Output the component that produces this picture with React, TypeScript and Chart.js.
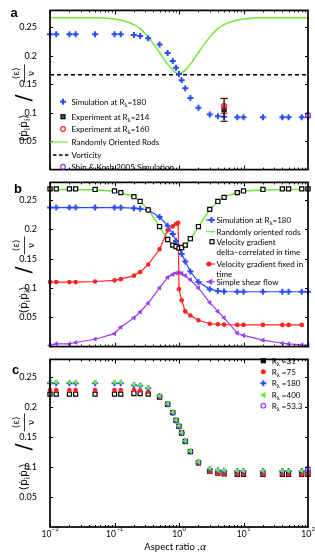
import React, { useEffect, useRef } from 'react';
import { Chart, registerables } from 'chart.js';
Chart.register(...registerables);

// ---------- data ----------
const ALPHA = [0.01, 0.0125, 0.02, 0.025, 0.05, 0.1, 0.125, 0.2, 0.25, 0.333, 0.5, 0.667, 0.8, 0.9, 1, 1.1, 1.25, 1.5, 2, 3, 4, 5, 8, 10, 20, 40, 50, 80, 100];

// panel a
const SIM180_A = [0.238, 0.238, 0.238, 0.238, 0.238, 0.238, 0.238, 0.2366, 0.235, 0.231, 0.22, 0.205, 0.191, 0.179, 0.168, 0.157, 0.143, 0.126, 0.109, 0.097, 0.094, 0.093, 0.092, 0.092, 0.092, 0.092, 0.092, 0.092, 0.092];
const RODS_A = [0.267, 0.267, 0.267, 0.267, 0.267, 0.265, 0.263, 0.255, 0.248, 0.233, 0.206, 0.185, 0.175, 0.170, 0.168, 0.170, 0.175, 0.185, 0.206, 0.233, 0.248, 0.255, 0.263, 0.265, 0.267, 0.267, 0.267, 0.267, 0.267];
const VORT_ALPHA = [0.01, 100];
const VORT_A = [0.1667, 0.1667];
const EXP_ALPHA = [5];
const EXP214_A = [0.105];
const EXP214_ERR = [0.02];
const EXP160_A = [0.112];
const EXP160_ERR = [0.0135];
const SHIN_ALPHA = [100];
const SHIN_A = [0.096];

// panel b
const SIM180_B = [0.237, 0.237, 0.237, 0.237, 0.237, 0.237, 0.237, 0.236, 0.235, 0.233, 0.221, 0.206, 0.192, 0.180, 0.169, 0.158, 0.145, 0.128, 0.110, 0.098, 0.095, 0.094, 0.0935, 0.0935, 0.0935, 0.0935, 0.0935, 0.0935, 0.0935];
const RODS_B = [0.268, 0.268, 0.268, 0.268, 0.267, 0.265, 0.262, 0.255, 0.2475, 0.233, 0.2047, 0.1826, 0.173, 0.1706, 0.168, 0.1706, 0.173, 0.1826, 0.2047, 0.233, 0.2475, 0.255, 0.262, 0.265, 0.267, 0.268, 0.268, 0.268, 0.268];
const DELTA_B = [0.269, 0.269, 0.269, 0.269, 0.268, 0.2654, 0.2626, 0.2556, 0.2475, 0.233, 0.2047, 0.1826, 0.173, 0.1706, 0.168, 0.169, 0.173, 0.184, 0.2047, 0.234, 0.2475, 0.2545, 0.2626, 0.2654, 0.268, 0.269, 0.269, 0.269, 0.269];
const FIXED_ALPHA = [0.01, 0.0125, 0.02, 0.025, 0.05, 0.1, 0.125, 0.2, 0.25, 0.333, 0.5, 0.667, 0.8, 0.9, 0.97, 1.0, 1.1, 1.25, 1.5, 2, 3, 4, 5, 8, 10, 20, 40, 50, 80, 100];
const FIXED_B = [0.110, 0.110, 0.110, 0.110, 0.111, 0.113, 0.115, 0.121, 0.127, 0.140, 0.166, 0.198, 0.205, 0.209, 0.211, 0.098, 0.079, 0.060, 0.053, 0.045, 0.039, 0.038, 0.0375, 0.037, 0.037, 0.037, 0.037, 0.037, 0.037];
const SHEAR_B = [0.002, 0.0045, 0.0045, 0.007, 0.0125, 0.022, 0.033, 0.049, 0.059, 0.074, 0.100, 0.118, 0.123, 0.1255, 0.126, 0.125, 0.121, 0.114, 0.100, 0.075, 0.060, 0.049, 0.023, 0.019, 0.011, 0.0057, 0.0045, 0.003, 0.002];

// panel c
const R31_C = [0.222, 0.222, 0.222, 0.222, 0.222, 0.222, 0.222, 0.223, 0.223, 0.222, 0.217, 0.205, 0.191, 0.178, 0.168, 0.157, 0.143, 0.126, 0.107, 0.093, 0.090, 0.089, 0.088, 0.088, 0.088, 0.088, 0.088, 0.088, 0.088];
const R75_C = [0.229, 0.229, 0.229, 0.229, 0.229, 0.229, 0.229, 0.229, 0.228, 0.226, 0.217, 0.205, 0.191, 0.178, 0.168, 0.157, 0.143, 0.126, 0.106, 0.092, 0.0895, 0.089, 0.088, 0.088, 0.088, 0.088, 0.088, 0.088, 0.088];
const R180_C = [0.240, 0.240, 0.240, 0.240, 0.240, 0.240, 0.240, 0.237, 0.236, 0.232, 0.219, 0.205, 0.191, 0.178, 0.168, 0.157, 0.143, 0.126, 0.108, 0.097, 0.095, 0.094, 0.0935, 0.0935, 0.0935, 0.0935, 0.0935, 0.0935, 0.0935];
const R400_C = [0.242, 0.242, 0.242, 0.242, 0.242, 0.242, 0.242, 0.238, 0.237, 0.233, 0.219, 0.206, 0.192, 0.179, 0.169, 0.158, 0.144, 0.127, 0.109, 0.098, 0.095, 0.095, 0.094, 0.094, 0.094, 0.094, 0.094, 0.094, 0.094];
const R53_ALPHA = [100];
const R53_C = [0.097];

// axes
const X_DECADES = [0.01, 0.1, 1, 10, 100];
const X_EXPONENTS = ['\u22122', '\u22121', '0', '1', '2'];
const Y_TICKS = [0.05, 0.1, 0.15, 0.2, 0.25];
const Y_LABELS = ['0.05', '0.1', '0.15', '0.2', '0.25'];

// ---------- styles ----------
const FONT = 'Lato, "Open Sans", sans-serif';
const MATH = '"DejaVu Sans", sans-serif';
const BLUE = '#2a4cff';
const GREEN = '#70e83a';
const RED = '#ff2222';
const PURPLE = '#9a3cf2';
const BLACK = '#000000';

const pts = (xs: number[], ys: number[]) => xs.map((x, i) => ({ x, y: ys[i] }));

type Seg = { t: string; sub?: boolean };
function parseRich(s: string): Seg[] {
  const out: Seg[] = [];
  const re = /_\{([^}]*)\}/g;
  let last = 0;
  let m: RegExpExecArray | null;
  while ((m = re.exec(s))) {
    if (m.index > last) out.push({ t: s.slice(last, m.index) });
    out.push({ t: m[1], sub: true });
    last = re.lastIndex;
  }
  if (last < s.length) out.push({ t: s.slice(last) });
  return out;
}
function drawRich(ctx: CanvasRenderingContext2D, s: string, x: number, y: number, size: number, family: string) {
  const segs = parseRich(s);
  let cx = x;
  ctx.textAlign = 'left';
  for (const g of segs) {
    ctx.font = `${g.sub ? size * 0.72 : size}px ${family}`;
    ctx.fillText(g.t, cx, g.sub ? y + size * 0.28 : y);
    cx += ctx.measureText(g.t).width;
  }
}

function drawMarker(ctx: CanvasRenderingContext2D, kind: string, x: number, y: number, color: string, fill?: string) {
  ctx.save();
  ctx.strokeStyle = color;
  if (kind === 'plus') {
    ctx.lineWidth = 2;
    ctx.beginPath();
    ctx.moveTo(x - 3, y); ctx.lineTo(x + 3, y);
    ctx.moveTo(x, y - 3); ctx.lineTo(x, y + 3);
    ctx.stroke();
  } else if (kind === 'rect') {
    ctx.lineWidth = 1.2;
    ctx.fillStyle = fill || color;
    ctx.fillRect(x - 2, y - 2, 4, 4);
    ctx.strokeRect(x - 2, y - 2, 4, 4);
  } else if (kind === 'dot') {
    ctx.fillStyle = color;
    ctx.beginPath(); ctx.arc(x, y, 2.5, 0, Math.PI * 2); ctx.closePath(); ctx.fill();
  } else if (kind === 'ring') {
    ctx.lineWidth = 1.2;
    ctx.beginPath(); ctx.arc(x, y, 2.3, 0, Math.PI * 2); ctx.closePath();
    if (fill) { ctx.fillStyle = fill; ctx.fill(); }
    ctx.stroke();
  } else if (kind === 'tri') {
    ctx.fillStyle = color;
    ctx.beginPath();
    ctx.moveTo(x - 3.2, y); ctx.lineTo(x + 2.2, y - 3.2); ctx.lineTo(x + 2.2, y + 3.2); ctx.closePath(); ctx.fill();
  }
  ctx.restore();
}

type LegendItem = { y: number; text: string[]; marker?: string; mx?: number; color: string; fill?: string; line?: [number, number]; dash?: boolean };

const decor = {
  id: 'decor',
  afterDatasetsDraw(chart: any, _args: any, opts: any) {
    const { ctx, chartArea: ca } = chart;
    const xs = chart.scales.x;
    const ys = chart.scales.y;
    const off = opts.offY || 0;
    ctx.save();
    // error bars
    chart.data.datasets.forEach((ds: any) => {
      if (!ds.errorBars) return;
      ds.data.forEach((p: any, j: number) => {
        const e = ds.errorBars[j];
        const px = xs.getPixelForValue(p.x);
        const y1 = ys.getPixelForValue(p.y - e);
        const y2 = ys.getPixelForValue(p.y + e);
        ctx.strokeStyle = ds.borderColor;
        ctx.lineWidth = 1;
        ctx.beginPath();
        ctx.moveTo(px, y1); ctx.lineTo(px, y2);
        ctx.moveTo(px - 3.5, y1); ctx.lineTo(px + 3.5, y1);
        ctx.moveTo(px - 3.5, y2); ctx.lineTo(px + 3.5, y2);
        ctx.stroke();
      });
    });
    // frame
    ctx.strokeStyle = '#000';
    ctx.lineWidth = 1.7;
    ctx.strokeRect(ca.left, ca.top, ca.right - ca.left, ca.bottom - ca.top);
    // ticks
    ctx.lineWidth = 1;
    ctx.beginPath();
    for (const v of Y_TICKS) {
      const py = Math.round(ys.getPixelForValue(v)) + 0.5;
      ctx.moveTo(ca.left, py); ctx.lineTo(ca.left + 3, py);
      ctx.moveTo(ca.right, py); ctx.lineTo(ca.right - 3, py);
    }
    for (let k = -2; k <= 1; k++) {
      for (let d = 1; d <= 9; d++) {
        const v = d * Math.pow(10, k);
        const px = Math.round(xs.getPixelForValue(v)) + 0.5;
        const len = d === 1 ? 4 : 2;
        ctx.moveTo(px, ca.top); ctx.lineTo(px, ca.top + len);
        ctx.moveTo(px, ca.bottom); ctx.lineTo(px, ca.bottom - len);
      }
    }
    ctx.stroke();
    ctx.fillStyle = '#000';
    ctx.textBaseline = 'alphabetic';
    // panel letter
    ctx.font = `bold 13px "Liberation Sans", Arial, sans-serif`;
    ctx.textAlign = 'left';
    ctx.fillText(opts.letter, opts.letterX, opts.letterY - off);
    // y title
    const yc = ca.top + 93;
    ctx.save();
    ctx.translate(22, yc);
    ctx.rotate(-Math.PI / 2);
    ctx.fillStyle = '#000';
    drawRich(ctx, '\u27e8\u1e57_{i}\u1e57_{i}\u27e9', -38, 4.5, 11, MATH);
    ctx.font = `21px ${MATH}`;
    ctx.textAlign = 'left';
    ctx.fillText('/', 2, 9);
    ctx.font = `9px ${MATH}`;
    ctx.textAlign = 'center';
    ctx.fillText('\u27e8\u03b5\u27e9', 30, -3.5);
    ctx.fillText('\u03bd', 30, 11.5);
    ctx.strokeStyle = '#000';
    ctx.lineWidth = 0.8;
    ctx.beginPath(); ctx.moveTo(21, 2.5); ctx.lineTo(39, 2.5); ctx.stroke();
    ctx.restore();
    // legend
    (opts.legend || []).forEach((it: LegendItem) => {
      const cy = it.y - off;
      if (it.line) {
        ctx.save();
        ctx.strokeStyle = it.color;
        ctx.lineWidth = it.dash ? 1.5 : 1.2;
        if (it.dash) ctx.setLineDash([3.5, 2.5]);
        ctx.beginPath(); ctx.moveTo(it.line[0], cy); ctx.lineTo(it.line[1], cy); ctx.stroke();
        ctx.restore();
      }
      if (it.marker) drawMarker(ctx, it.marker, it.mx as number, cy, it.color, it.fill);
      ctx.fillStyle = '#000';
      it.text.forEach((t, li) => drawRich(ctx, t, opts.legendTextX, cy + 2.8 + li * 10, 8, FONT));
    });
    // x labels
    if (opts.xLabels) {
      ctx.fillStyle = '#000';
      X_DECADES.forEach((v, i) => {
        const px = xs.getPixelForValue(v);
        ctx.font = `8.5px ${FONT}`;
        const w1 = ctx.measureText('10').width;
        ctx.font = `6px ${FONT}`;
        const w2 = ctx.measureText(X_EXPONENTS[i]).width;
        const x0 = px - (w1 + w2) / 2;
        ctx.font = `8.5px ${FONT}`;
        ctx.textAlign = 'left';
        ctx.fillText('10', x0, 536.5 - off);
        ctx.font = `6px ${FONT}`;
        ctx.fillText(X_EXPONENTS[i], x0 + w1 + 0.3, 531 - off);
      });
      ctx.font = `9.5px ${FONT}`;
      ctx.textAlign = 'left';
      const t1 = 'Aspect ratio ,';
      const w = ctx.measureText(t1).width;
      ctx.font = `italic 9.5px ${MATH}`;
      const wa = ctx.measureText('\u03b1').width;
      const x0 = 175 - (w + wa) / 2;
      ctx.font = `9.5px ${FONT}`;
      ctx.fillText(t1, x0, 550 - off);
      ctx.font = `italic 9.5px ${MATH}`;
      ctx.fillText('\u03b1', x0 + w + 0.5, 550 - off);
    }
    ctx.restore();
  },
};

function makeChart(canvas: HTMLCanvasElement, datasets: any[], height: number, top: number, bottom: number, decorOpts: any) {
  return new Chart(canvas, {
    type: 'scatter',
    data: { datasets },
    options: {
      responsive: false,
      animation: false,
      devicePixelRatio: 1,
      layout: { padding: { left: 0, right: 7, top, bottom: 0 } },
      plugins: { legend: { display: false }, tooltip: { enabled: false }, decor: decorOpts } as any,
      scales: {
        x: {
          type: 'logarithmic', min: 0.01, max: 100,
          grid: { display: false }, border: { display: false },
          ticks: { display: false },
          afterBuildTicks: (s: any) => { s.ticks = X_DECADES.map((v) => ({ value: v })); },
          afterFit: (s: any) => { s.height = height - bottom; },
        },
        y: {
          type: 'linear', min: 0, max: 0.28,
          grid: { display: false }, border: { display: false },
          ticks: {
            color: '#000', padding: 5, font: { family: FONT, size: 9 },
            callback: (v: any) => { const i = Y_TICKS.findIndex((t) => Math.abs(t - v) < 1e-9); return i >= 0 ? Y_LABELS[i] : ''; },
          },
          afterBuildTicks: (s: any) => { s.ticks = Y_TICKS.map((v) => ({ value: v })); },
          afterFit: (s: any) => { s.width = 50; },
        },
      },
    } as any,
    plugins: [decor],
  });
}

const scatterDs = (label: string, data: any[], style: any) => ({ label, data, showLine: false, clip: false, ...style });
const lineDs = (label: string, data: any[], style: any) => ({ label, data, showLine: true, clip: false, tension: 0, ...style });

const PLUS = { pointStyle: 'cross', pointRadius: 3, pointBorderWidth: 2, borderColor: BLUE, backgroundColor: BLUE };
const SQUARE = { pointStyle: 'rect', pointRadius: 2.9, pointBorderWidth: 1.2, borderColor: BLACK, backgroundColor: '#ffffff' };
const DOT = { pointStyle: 'circle', pointRadius: 2.3, pointBorderWidth: 0, borderColor: RED, backgroundColor: RED };
const TRI_P = { pointStyle: 'triangle', rotation: -90, pointRadius: 3, pointBorderWidth: 0, borderColor: PURPLE, backgroundColor: PURPLE };
const TRI_G = { pointStyle: 'triangle', rotation: -90, pointRadius: 3.2, pointBorderWidth: 0, borderColor: GREEN, backgroundColor: GREEN };
const RING_P = { pointStyle: 'circle', pointRadius: 2.4, pointBorderWidth: 1.3, borderColor: PURPLE, backgroundColor: '#ffffff' };

export default function App() {
  const ra = useRef<HTMLCanvasElement>(null);
  const rb = useRef<HTMLCanvasElement>(null);
  const rc = useRef<HTMLCanvasElement>(null);

  useEffect(() => {
    const charts: Chart[] = [];
    // panel a
    charts.push(makeChart(ra.current as HTMLCanvasElement, [
      scatterDs('Experiment at R=160', pts(EXP_ALPHA, EXP160_A), { pointStyle: 'circle', pointRadius: 2.4, pointBorderWidth: 1.2, borderColor: RED, backgroundColor: '#ff8a8a', errorBars: EXP160_ERR }),
      scatterDs('Experiment at R=214', pts(EXP_ALPHA, EXP214_A), { pointStyle: 'rect', pointRadius: 2.8, pointBorderWidth: 1.2, borderColor: BLACK, backgroundColor: '#555555', errorBars: EXP214_ERR }),
      scatterDs('Shin & Koch 2005 Simulation', pts(SHIN_ALPHA, SHIN_A), RING_P),
      scatterDs('Simulation at R=180', pts(ALPHA, SIM180_A), PLUS),
      lineDs('Vorticity', pts(VORT_ALPHA, VORT_A), { borderColor: BLACK, borderWidth: 1.5, borderDash: [4, 3], pointRadius: 0 }),
      lineDs('Randomly Oriented Rods', pts(ALPHA, RODS_A), { borderColor: GREEN, borderWidth: 1.5, pointRadius: 0, cubicInterpolationMode: 'monotone' }),
    ], 180, 4, 177.5, {
      offY: 0, letter: 'a', letterX: 10.5, letterY: 17, legendTextX: 71.5,
      legend: [
        { y: 101.7, text: ['Simulation at R_{\u03bb}=180'], marker: 'plus', mx: 63, color: BLUE },
        { y: 116.7, text: ['Experiment at R_{\u03bb}=214'], marker: 'rect', mx: 63, color: BLACK, fill: '#555555' },
        { y: 129, text: ['Experiment at R_{\u03bb}=160'], marker: 'ring', mx: 63, color: RED, fill: '#ffffff' },
        { y: 142, text: ['Randomly Oriented Rods'], line: [50, 68], color: GREEN },
        { y: 155, text: ['Vorticity'], line: [53, 69], dash: true, color: BLACK },
        { y: 166.7, text: ['Shin & Koch 2005 Simulation'], marker: 'ring', mx: 63, color: PURPLE, fill: '#ffffff' },
      ],
    }));
    // panel b
    charts.push(makeChart(rb.current as HTMLCanvasElement, [
      scatterDs('Velocity gradient delta-correlated in time', pts(ALPHA, DELTA_B), SQUARE),
      lineDs('Simulation at R=180', pts(ALPHA, SIM180_B), { ...PLUS, borderWidth: 1.2 }),
      lineDs('Velocity gradient fixed in time', pts(FIXED_ALPHA, FIXED_B), { ...DOT, borderWidth: 1.2 }),
      lineDs('Simple shear flow', pts(ALPHA, SHEAR_B), { ...TRI_P, borderWidth: 1.2 }),
      lineDs('Randomly oriented rods', pts(ALPHA, RODS_B), { borderColor: GREEN, borderWidth: 1.4, pointRadius: 0, cubicInterpolationMode: 'monotone' }),
    ], 185, 5, 181.5, {
      offY: 172, letter: 'b', letterX: 14, letterY: 192.5, legendTextX: 216.5,
      legend: [
        { y: 220, text: ['Simulation at R_{\u03bb}=180'], marker: 'plus', mx: 211.5, line: [206, 215], color: BLUE },
        { y: 231.7, text: ['Randomly oriented rods'], line: [206, 215], color: GREEN },
        { y: 241.7, text: ['Velocity gradient', 'delta\u2013correlated in time'], marker: 'rect', mx: 212, color: BLACK, fill: '#ffffff' },
        { y: 264, text: ['Velocity gradient fixed in', 'time'], marker: 'dot', mx: 209, line: [206, 215], color: RED },
        { y: 281.7, text: ['Simple shear flow'], marker: 'tri', mx: 210, line: [206, 215], color: PURPLE },
      ],
    }));
    // panel c
    charts.push(makeChart(rc.current as HTMLCanvasElement, [
      scatterDs('R=53.3', pts(R53_ALPHA, R53_C), RING_P),
      scatterDs('R=400', pts(ALPHA, R400_C), TRI_G),
      scatterDs('R=180', pts(ALPHA, R180_C), PLUS),
      scatterDs('R=75', pts(ALPHA, R75_C), DOT),
      scatterDs('R=31', pts(ALPHA, R31_C), { ...SQUARE, backgroundColor: '#ffffff' }),
    ], 205, 5, 178, {
      offY: 349, letter: 'c', letterX: 12, letterY: 374, legendTextX: 271.7, xLabels: true,
      legend: [
        { y: 360.7, text: ['R_{\u03bb} =31'], marker: 'rect', mx: 263.3, color: BLACK, fill: '#000000' },
        { y: 371.7, text: ['R_{\u03bb} =75'], marker: 'dot', mx: 263.3, color: RED },
        { y: 383.3, text: ['R_{\u03bb} =180'], marker: 'plus', mx: 263.3, color: BLUE },
        { y: 395, text: ['R_{\u03bb} =400'], marker: 'tri', mx: 263.3, color: GREEN },
        { y: 405.7, text: ['R_{\u03bb} =53.3'], marker: 'ring', mx: 263.3, color: PURPLE, fill: '#ffffff' },
      ],
    }));
    return () => charts.forEach((c) => c.destroy());
  }, []);

  const box = (top: number, h: number): React.CSSProperties => ({ position: 'absolute', left: 0, top, width: 315, height: h });
  return (
    <div style={{ position: 'absolute', left: 0, top: 0, width: 315, height: 554, background: '#ffffff', overflow: 'hidden' }}>
      <div style={box(0, 180)}><canvas ref={ra} width={315} height={180} style={{ display: 'block', width: 315, height: 180 }} /></div>
      <div style={box(172, 185)}><canvas ref={rb} width={315} height={185} style={{ display: 'block', width: 315, height: 185 }} /></div>
      <div style={box(349, 205)}><canvas ref={rc} width={315} height={205} style={{ display: 'block', width: 315, height: 205 }} /></div>
    </div>
  );
}
